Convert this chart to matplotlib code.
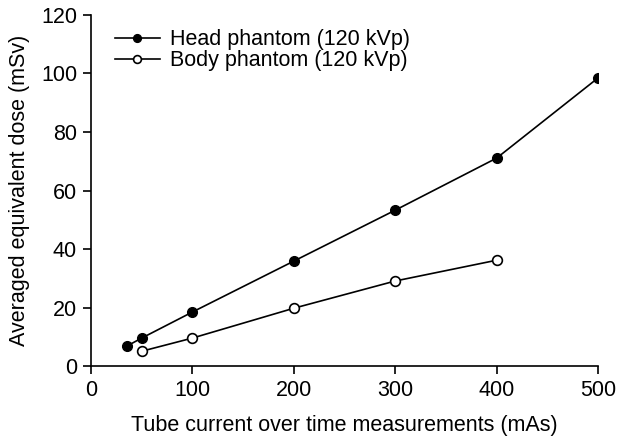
import numpy as np
import matplotlib.pyplot as plt

plt.rcParams['font.family'] = ['Liberation Sans', 'DejaVu Sans']

head_mas = [35, 50, 100, 200, 300, 400, 500]
head_dose = [6.8, 9.6, 18.5, 35.9, 53.3, 71.1, 98.5]
body_mas = [50, 100, 200, 300, 400]
body_dose = [5.1, 9.6, 19.8, 29.1, 36.2]

fig = plt.figure(figsize=(6.17, 4.38), dpi=100)
ax = fig.add_axes([0.1475, 0.164, 0.822, 0.802])

ax.plot(head_mas, head_dose, '-o', color='black', lw=1.2, ms=7,
        mfc='black', mec='black', label='Head phantom (120 kVp)')
ax.plot(body_mas, body_dose, '-o', color='black', lw=1.2, ms=7,
        mfc='white', mec='black', mew=1.2, label='Body phantom (120 kVp)')

ax.set_xlim(0, 500)
ax.set_ylim(0, 120)
ax.set_xticks(np.arange(0, 501, 100))
ax.set_yticks(np.arange(0, 121, 20))
for s in ['top', 'right']:
    ax.spines[s].set_visible(False)
for s in ['left', 'bottom']:
    ax.spines[s].set_linewidth(1.2)
ax.tick_params(direction='out', length=6, width=1.2, labelsize=15.5, pad=4)
ax.set_xlabel('Tube current over time measurements (mAs)', fontsize=15.5, labelpad=10)
ax.set_ylabel('Averaged equivalent dose (mSv)', fontsize=15.5, labelpad=8)
ax.patch.set_visible(False)
for sp in ax.spines.values():
    sp.set_clip_on(False)

ax.legend(loc='upper left', bbox_to_anchor=(0.03, 0.984), frameon=False,
          fontsize=15.5, handlelength=2.1, handletextpad=0.45, labelspacing=0.0,
          borderaxespad=0, markerscale=0.8)

fig.savefig('out.png', dpi=100)
